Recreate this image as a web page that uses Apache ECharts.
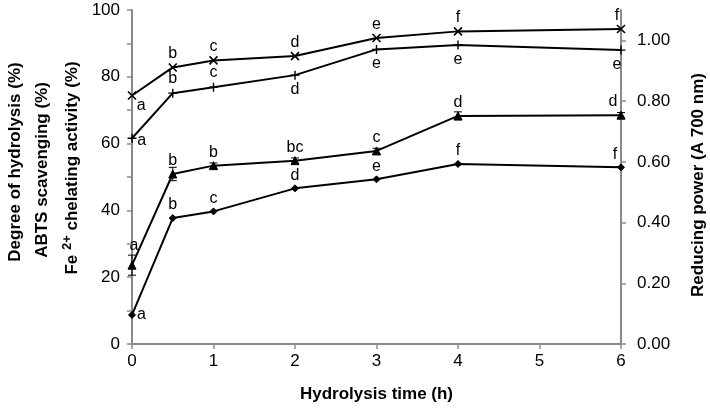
<!DOCTYPE html>
<html>
<head>
<meta charset="utf-8">
<script src="https://cdn.jsdelivr.net/npm/echarts@6/dist/echarts.min.js"></script>
<style>html,body{margin:0;padding:0;background:#fff}#c{width:710px;height:408px}</style>
</head>
<body>
<div id="c"></div>
<script>
// ---- data ----
var hours = [0, 0.5, 1, 2, 3, 4, 6];
var crossVals = [74.4, 82.8, 84.9, 86.2, 91.6, 93.6, 94.3];
var crossLetters = ['a', 'b', 'c', 'd', 'e', 'f', 'f'];
var plusVals = [61.6, 75.1, 76.9, 80.5, 88.2, 89.5, 88.0];
var plusLetters = ['a', 'b', 'c', 'd', 'e', 'e', 'e'];
var triVals = [23.6, 50.9, 53.4, 54.9, 57.8, 68.3, 68.5];
var triErr = [3.0, 2.0, 0.8, 0.8, 0.8, 1.2, 0.8];
var triLetters = ['a', 'b', 'b', 'bc', 'c', 'd', 'd'];
var diaVals = [8.7, 37.7, 39.7, 46.6, 49.3, 53.9, 52.9];
var diaLetters = ['a', 'b', 'c', 'd', 'e', 'f', 'f'];
var xTicks = [0, 1, 2, 3, 4, 5, 6];
var rightTicks = [0, 0.2, 0.4, 0.6, 0.8, 1.0];

var FONT = 'Liberation Sans, Arial, sans-serif';
var AX = '#8a8a8a';

function mk(vals, letters, posFn) {
  return vals.map(function (v, i) {
    var p = posFn(i);
    return {
      value: [hours[i], v],
      label: {
        show: true, formatter: letters[i], position: p.pos, offset: p.off || [0, 0],
        distance: 1, color: '#000', fontSize: 16, fontFamily: FONT
      }
    };
  });
}

var crossData = mk(crossVals, crossLetters, function (i) {
  if (i === 0) return { pos: 'right', off: [-1, 10] };
  if (i === 6) return { pos: 'top', off: [-4, 0] };
  return { pos: 'top' };
});
var plusData = mk(plusVals, plusLetters, function (i) {
  if (i === 0) return { pos: 'right', off: [-1, 2] };
  if (i <= 2) return { pos: 'top' };
  if (i === 6) return { pos: 'bottom', off: [-4, 0] };
  return { pos: 'bottom' };
});
var triData = mk(triVals, triLetters, function (i) {
  if (i === 0) return { pos: 'top', off: [2, -6] };
  if (i === 6) return { pos: 'top', off: [-8, 0] };
  return { pos: 'top' };
});
var diaData = mk(diaVals, diaLetters, function (i) {
  if (i === 0) return { pos: 'right', off: [0, 0] };
  if (i === 6) return { pos: 'top', off: [-6, 0] };
  return { pos: 'top' };
});

var errData = triVals.map(function (v, i) { return [hours[i], v - triErr[i], v + triErr[i]]; });

var lineBase = {
  type: 'line', xAxisIndex: 0, yAxisIndex: 0, silent: true,
  lineStyle: { color: '#000', width: 2 },
  itemStyle: { color: '#000', borderColor: '#000' },
  z: 3
};

var option = {
  backgroundColor: '#fff',
  animation: false,
  grid: { left: 132, right: 89, top: 10, bottom: 59 },
  xAxis: {
    type: 'value', min: 0, max: 6, interval: 1,
    name: 'Hydrolysis time (h)', nameLocation: 'middle', nameGap: 42,
    nameTextStyle: { color: '#000', fontSize: 17, fontWeight: 'bold', fontFamily: FONT },
    axisLine: { show: true, lineStyle: { color: AX, width: 2 } },
    axisTick: { show: true, length: 5, lineStyle: { color: AX, width: 1.5 } },
    axisLabel: { color: '#000', fontSize: 17, fontFamily: FONT, margin: 9,
      customValues: xTicks },
    splitLine: { show: false }
  },
  yAxis: [{
    type: 'value', min: 0, max: 100, interval: 10, position: 'left',
    axisLine: { show: true, lineStyle: { color: AX, width: 2 } },
    axisTick: { show: true, length: 5, lineStyle: { color: AX, width: 1.5 } },
    axisLabel: { color: '#000', fontSize: 17, fontFamily: FONT, margin: 12,
      formatter: function (v) { return (Math.round(v) % 20 === 0) ? String(v) : ''; } },
    splitLine: { show: false }
  }, {
    type: 'value', min: 0, max: 1.1, interval: 0.2, position: 'right',
    axisLine: { show: true, lineStyle: { color: AX, width: 2 } },
    axisTick: { show: true, length: 5, lineStyle: { color: AX, width: 1.5 }, customValues: rightTicks },
    axisLabel: { color: '#000', fontSize: 17, fontFamily: FONT, margin: 16,
      customValues: rightTicks,
      formatter: function (v) { return v.toFixed(2); } },
    splitLine: { show: false }
  }],
  graphic: [
    { type: 'text', x: 15, y: 162, rotation: Math.PI / 2,
      style: { text: 'Degree of hydrolysis (%)', font: 'bold 17px ' + FONT, fill: '#000', align: 'center', verticalAlign: 'middle' } },
    { type: 'text', x: 42, y: 170, rotation: Math.PI / 2,
      style: { text: 'ABTS scavenging (%)', font: 'bold 17px ' + FONT, fill: '#000', align: 'center', verticalAlign: 'middle' } },
    { type: 'text', x: 71, y: 168, rotation: Math.PI / 2,
      style: { text: '{n|Fe }{s|2+}{n| chelating activity (%)}', fill: '#000', align: 'center', verticalAlign: 'middle',
        rich: {
          n: { fontSize: 17, fontWeight: 'bold', fontFamily: FONT, fill: '#000', lineHeight: 20, verticalAlign: 'bottom' },
          s: { fontSize: 13, fontWeight: 'bold', fontFamily: FONT, fill: '#000', lineHeight: 20, verticalAlign: 'top' }
        } } },
    { type: 'text', x: 698, y: 185, rotation: Math.PI / 2,
      style: { text: 'Reducing power (A 700 nm)', font: 'bold 17px ' + FONT, fill: '#000', align: 'center', verticalAlign: 'middle' } }
  ],
  series: [
    Object.assign({}, lineBase, {
      name: 'cross', data: crossData,
      symbol: 'path://M0,0L10,10M10,0L0,10', symbolSize: 8,
      itemStyle: { color: '#000', borderColor: '#000', borderWidth: 1.6 }
    }),
    Object.assign({}, lineBase, {
      name: 'plus', data: plusData,
      symbol: 'path://M5,0L5,10M0,5L10,5', symbolSize: 9,
      itemStyle: { color: '#000', borderColor: '#000', borderWidth: 1.4 }
    }),
    Object.assign({}, lineBase, {
      name: 'triangle', data: triData, symbol: 'triangle', symbolSize: 8
    }),
    Object.assign({}, lineBase, {
      name: 'diamond', data: diaData, symbol: 'diamond', symbolSize: 7
    }),
    {
      type: 'custom', name: 'err', xAxisIndex: 0, yAxisIndex: 0, silent: true, z: 2,
      data: errData,
      renderItem: function (params, api) {
        var x = api.value(0);
        var lo = api.coord([x, api.value(1)]);
        var hi = api.coord([x, api.value(2)]);
        var w = 4;
        var st = { stroke: '#000', lineWidth: 1 };
        return { type: 'group', children: [
          { type: 'line', shape: { x1: lo[0], y1: lo[1], x2: hi[0], y2: hi[1] }, style: st },
          { type: 'line', shape: { x1: lo[0] - w, y1: lo[1], x2: lo[0] + w, y2: lo[1] }, style: st },
          { type: 'line', shape: { x1: hi[0] - w, y1: hi[1], x2: hi[0] + w, y2: hi[1] }, style: st }
        ] };
      }
    }
  ]
};

var chart = echarts.init(document.getElementById('c'), null, { renderer: 'canvas' });
chart.setOption(option);
</script>
</body>
</html>
